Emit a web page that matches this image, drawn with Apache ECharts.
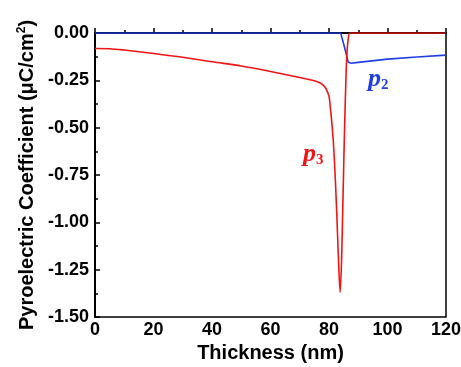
<!DOCTYPE html>
<html>
<head>
<meta charset="utf-8">
<script src="https://cdn.jsdelivr.net/npm/echarts@6/dist/echarts.min.js"></script>
<style>
  html, body { margin: 0; padding: 0; background: #fff; }
  #chart { width: 461px; height: 367px; }
</style>
</head>
<body>
<div id="chart"></div>
<script>
// p3 (red) curve
var p3Thickness = [0, 5, 10, 20, 30, 40, 50, 60, 70, 75, 77, 78, 79, 80, 80.5, 81, 81.5, 82, 82.6, 83.2, 83.8, 84.3, 84.7, 85.1, 85.5, 86, 86.5, 87.2, 90, 100, 110, 120];
var p3Values = [-0.082, -0.083, -0.09, -0.108, -0.128, -0.152, -0.174, -0.203, -0.235, -0.252, -0.264, -0.275, -0.295, -0.335, -0.4, -0.48, -0.58, -0.72, -0.93, -1.18, -1.37, -1.2, -0.93, -0.65, -0.4, -0.15, -0.04, 0, 0, 0, 0, 0];

// p2 (blue) curve
var p2Thickness = [0, 40, 84, 85.3, 86.6, 87.6, 90, 100, 110, 120];
var p2Values = [0, 0, 0, -0.075, -0.155, -0.16, -0.155, -0.138, -0.127, -0.117];

var yTicks = [0, -0.25, -0.5, -0.75, -1.0, -1.25, -1.5];
var xTicks = [0, 20, 40, 60, 80, 100, 120];

function pairs(xs, ys) {
  var out = [];
  for (var i = 0; i < xs.length; i++) {
    out.push([xs[i], ys[i]]);
  }
  return out;
}

var chart = echarts.init(document.getElementById('chart'));
var font = 'Liberation Sans, Arial, sans-serif';
var serif = 'Liberation Serif, DejaVu Serif, serif';

chart.setOption({
  animation: false,
  grid: {
    left: 95,
    right: 15,
    top: 33,
    bottom: 50,
    outerBoundsMode: 'none',
    containLabel: false,
    show: true,
    borderColor: '#000',
    borderWidth: 1.5,
    backgroundColor: 'transparent'
  },
  xAxis: {
    type: 'value',
    min: 0,
    max: 120,
    interval: 20,
    name: 'Thickness (nm)',
    nameLocation: 'middle',
    nameGap: 26,
    nameTextStyle: { fontFamily: font, fontWeight: 'bold', fontSize: 20, color: '#000' },
    axisLine: { show: true, lineStyle: { color: '#000', width: 2 } },
    axisTick: { show: true, inside: true, length: 5, lineStyle: { color: '#000', width: 1.5 } },
    minorTick: { show: true, splitNumber: 2, length: 3, lineStyle: { color: '#000', width: 1.5 } },
    axisLabel: {
      fontFamily: font, fontWeight: 'bold', fontSize: 18, color: '#000', margin: 4,
      formatter: function (v) { return xTicks.indexOf(v) >= 0 ? String(v) : ''; }
    },
    splitLine: { show: false }
  },
  yAxis: {
    type: 'value',
    min: -1.5,
    max: 0,
    interval: 0.25,
    name: 'Pyroelectric Coefficient (μC/cm{sup|2})',
    nameLocation: 'middle',
    nameGap: 55,
    nameRotate: 90,
    nameTextStyle: {
      fontFamily: font, fontWeight: 'bold', fontSize: 20, color: '#000',
      rich: { sup: { fontFamily: font, fontWeight: 'bold', fontSize: 12, color: '#000', verticalAlign: 'top', padding: [0, 0, 10, 0] } }
    },
    axisLine: { show: true, lineStyle: { color: '#000', width: 2 } },
    axisTick: { show: true, inside: true, length: 5, lineStyle: { color: '#000', width: 1.5 } },
    minorTick: { show: true, splitNumber: 2, length: 3, lineStyle: { color: '#000', width: 1.5 } },
    axisLabel: {
      fontFamily: font, fontWeight: 'bold', fontSize: 18, color: '#000', margin: 6,
      formatter: function (v) {
        for (var i = 0; i < yTicks.length; i++) {
          if (Math.abs(yTicks[i] - v) < 1e-6) return v.toFixed(2);
        }
        return '';
      }
    },
    splitLine: { show: false }
  },
  series: [
    {
      name: 'p2',
      type: 'line',
      data: pairs(p2Thickness, p2Values),
      showSymbol: false,
      lineStyle: { color: '#1f3fe6', width: 1.6 },
      itemStyle: { color: '#1f3fe6' },
      z: 2
    },
    {
      name: 'p3',
      type: 'line',
      data: pairs(p3Thickness, p3Values),
      showSymbol: false,
      smooth: 0.3,
      lineStyle: { color: '#f01414', width: 1.6 },
      itemStyle: { color: '#f01414' },
      z: 3
    }
  ],
  graphic: [
    {
      type: 'text',
      left: 303,
      top: 141,
      style: {
        text: '{p|p}{s|3}',
        rich: {
          p: { fontFamily: serif, fontStyle: 'italic', fontWeight: 'bold', fontSize: 26, fill: '#f01414' },
          s: { fontFamily: serif, fontWeight: 'bold', fontSize: 15, fill: '#f01414', padding: [12, 0, 0, 0] }
        }
      }
    },
    {
      type: 'text',
      left: 368,
      top: 66,
      style: {
        text: '{p|p}{s|2}',
        rich: {
          p: { fontFamily: serif, fontStyle: 'italic', fontWeight: 'bold', fontSize: 26, fill: '#1f3fe6' },
          s: { fontFamily: serif, fontWeight: 'bold', fontSize: 15, fill: '#1f3fe6', padding: [12, 0, 0, 0] }
        }
      }
    }
  ]
});
</script>
</body>
</html>
